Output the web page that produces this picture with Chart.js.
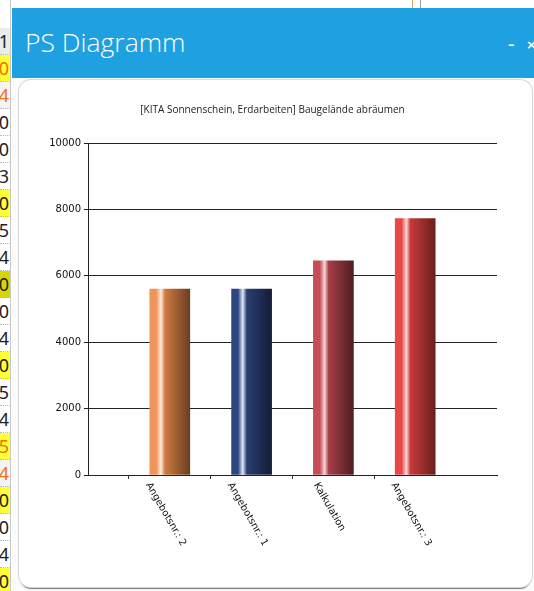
<!DOCTYPE html>
<html>
<head>
<meta charset="utf-8">
<script src="https://cdn.jsdelivr.net/npm/chart.js"></script>
<style>
    html, body { margin: 0; padding: 0; }
    body { width: 534px; height: 591px; overflow: hidden; background: #fff; position: relative; font-family: "Open Sans", sans-serif; }
    #sheet { position: absolute; left: 0; top: 28px; width: 10px; }
    .cell { position: relative; width: 10px; height: 26px; border-bottom: 1px dotted #bbb; overflow: hidden; background: #fff; }
    .cell span { position: absolute; right: 1px; top: 1px; font: 18px "Noto Sans", sans-serif; color: #222; }
    #sheetLine { position: absolute; left: 10px; top: 0; width: 1px; height: 591px; background: #c8c8c8; }
    #dialog { position: absolute; left: 12px; top: 8px; width: 540px; height: 600px; background: #fbfbfb; }
    #header { position: absolute; left: 0; top: 0; width: 540px; height: 70px; background: #1fa1e1; color: #fff; }
    #header .title { position: absolute; left: 13px; top: 16px; font-size: 26.5px; line-height: 36px; font-weight: 300; }
    #header .btn { position: absolute; top: 29px; font: bold 13px "DejaVu Sans", sans-serif; }
    #card { position: absolute; left: 19px; top: 80px; width: 513px; height: 507px; background: #fff; border-radius: 12px;
            box-shadow: 0 0 0 1px #d6d6d6, 0 3px 1px -1px #777; }
    #chartCanvas { position: absolute; left: 0; top: 0; }
</style>
</head>
<body>
<div id="sheet"></div>
<div id="sheetLine"></div>
<div style="position:absolute;left:412px;top:0;width:1px;height:8px;background:#e8a060"></div>
<div style="position:absolute;left:420px;top:0;width:1px;height:8px;background:#999"></div>
<div id="dialog">
    <div id="header">
        <div class="title">PS Diagramm</div>
        <div class="btn" style="left:496px">–</div>
        <div class="btn" style="left:514px">×</div>
    </div>
</div>
<div id="card"><canvas id="chartCanvas" width="513" height="507"></canvas></div>

<script>
// chart data
const chartTitle = "[KITA Sonnenschein, Erdarbeiten] Baugelände abräumen";
const categories = ["Angebotsnr.: 2", "Angebotsnr.: 1", "Kalkulation", "Angebotsnr.: 3"];
const values = [5600, 5600, 6450, 7720];
const yMin = 0, yMax = 10000, yStep = 2000;

// bar shading: left, highlight, middle, right
const barShades = [
    ["#f0955a", "#fdebdc", "#cf7a42", "#6a3e22"],
    ["#2c4580", "#e2e9f6", "#2a3f72", "#141c36"],
    ["#c64c56", "#f7d6d8", "#a73f48", "#4e1d21"],
    ["#e94848", "#ffd6d6", "#c83a3a", "#6a1f1f"]
];

// background spreadsheet strip
const sheetDigits = ["1","0","4","0","0","3","0","5","4","0","0","4","0","5","4","5","4","0","0","4","0"];
const sheetFill   = ["#ececec","#ffff33","#f4f4f4","#fff","#fff","#fff","#ffff33","#fff","#fff","#d6d600","#fff","#fff","#ffff33","#fff","#fff","#ffff33","#f4f4f4","#ffff33","#fff","#fff","#ffff33"];
const sheetInk    = ["#222","#f07010","#f07010","#222","#222","#222","#222","#222","#222","#222","#222","#222","#222","#222","#222","#f07010","#f07010","#222","#222","#222","#222"];

let sheet = document.getElementById("sheet");
sheetDigits.forEach((d, i) => {
    let cell = document.createElement("div");
    cell.className = "cell";
    cell.style.background = sheetFill[i];
    cell.innerHTML = '<span style="color:' + sheetInk[i] + '">1' + d + '</span>';
    sheet.appendChild(cell);
});

const barWidth = 40;

function barGradient(context) {
    let i = context.dataIndex - 1;
    let shade = barShades[i] || barShades[0];
    let chart = context.chart;
    if (!chart.chartArea || !chart.scales.x) return shade[2];
    let x = chart.scales.x.getPixelForValue(context.dataIndex);
    let g = chart.ctx.createLinearGradient(x - barWidth / 2, 0, x + barWidth / 2, 0);
    g.addColorStop(0, shade[0]);
    g.addColorStop(0.16, shade[0]);
    g.addColorStop(0.28, shade[1]);
    g.addColorStop(0.38, shade[2]);
    g.addColorStop(1, shade[3]);
    return g;
}

// rotated category labels, starting under each tick and running down to the right
const slantedLabels = {
    id: "slantedLabels",
    afterDraw(chart) {
        let ctx = chart.ctx;
        let xScale = chart.scales.x;
        let a = Math.PI / 3;
        ctx.save();
        ctx.font = '9.8px "DejaVu Sans"';
        ctx.fillStyle = "#111";
        ctx.textAlign = "center";
        ctx.textBaseline = "middle";
        categories.forEach((label, i) => {
            let w = ctx.measureText(label).width, h = 10;
            let bh = w * Math.sin(a) + h * Math.cos(a);
            let cx = xScale.getPixelForValue(i + 1) - 4;
            let cy = xScale.top + 6 + bh / 2;
            ctx.save();
            ctx.translate(cx, cy);
            ctx.rotate(a);
            ctx.fillText(label, 0, 0);
            ctx.restore();
        });
        ctx.restore();
    }
};

let labels = ["", ...categories, ""];
let data = [null, ...values, null];

new Chart(document.getElementById("chartCanvas").getContext("2d"), {
    type: "bar",
    data: {
        labels: labels,
        datasets: [{
            data: data,
            backgroundColor: barGradient,
            borderWidth: 0,
            barThickness: barWidth
        }]
    },
    options: {
        responsive: false,
        animation: false,
        devicePixelRatio: 1,
        layout: { padding: { left: 29, right: 35, top: 0, bottom: 0 } },
        plugins: {
            legend: { display: false },
            tooltip: { enabled: false },
            title: {
                display: true,
                text: chartTitle,
                color: "#222",
                font: { family: "Open Sans", size: 10, weight: "normal" },
                padding: { top: 24, bottom: 27 }
            }
        },
        scales: {
            x: {
                type: "category",
                offset: false,
                ticks: { display: false },
                grid: {
                    drawOnChartArea: false,
                    drawTicks: true,
                    tickLength: 4,
                    color: ctx => (ctx.index === 0 || ctx.index === labels.length - 1) ? "rgba(0,0,0,0)" : "#333"
                },
                border: { display: true, color: "#222" },
                afterFit: scale => { scale.height = 112; }
            },
            y: {
                min: yMin,
                max: yMax,
                ticks: {
                    stepSize: yStep,
                    color: "#111",
                    padding: 3,
                    font: { family: "DejaVu Sans", size: 10 },
                    callback: v => String(v)
                },
                grid: { color: "#222", lineWidth: 1, tickLength: 4 },
                border: { display: true, color: "#222" },
                afterFit: scale => { scale.width = 40; }
            }
        }
    },
    plugins: [slantedLabels]
});
</script>
</body>
</html>
